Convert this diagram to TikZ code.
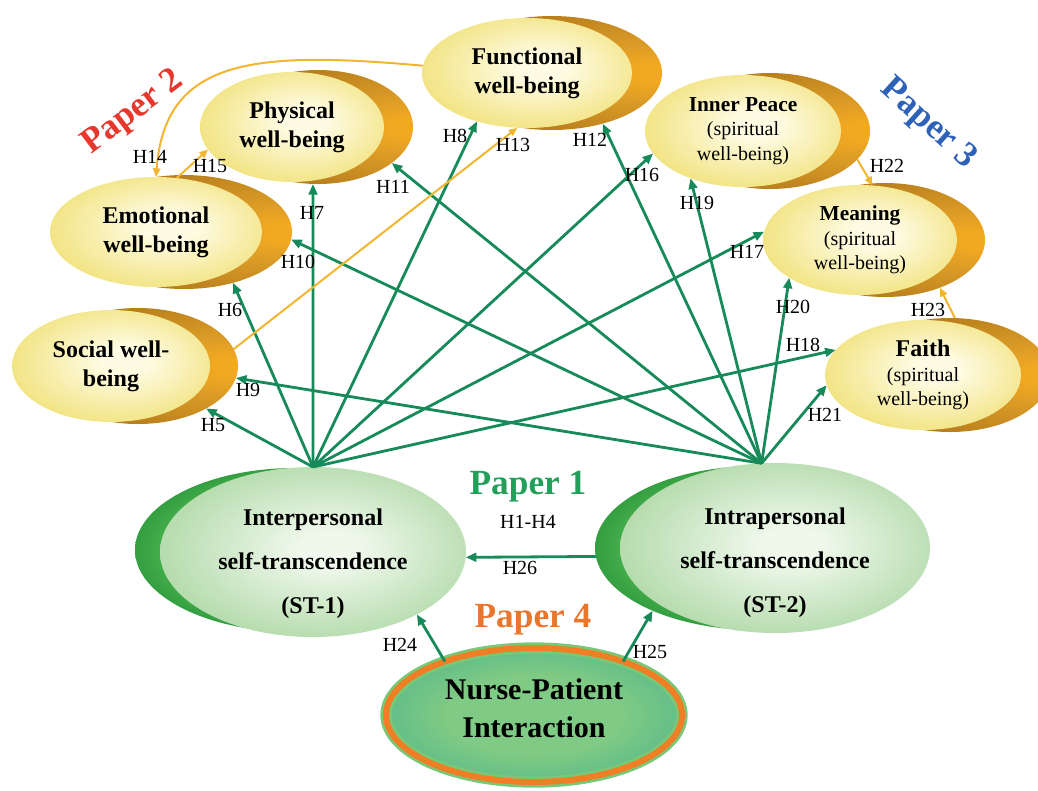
\documentclass[tikz,border=0pt]{standalone}
\usepackage{fontspec}
\setmainfont{Liberation Serif}
\usetikzlibrary{shapes.geometric,arrows.meta}

% fills
\definecolor{ylwIn}{HTML}{FEFBE2}
\definecolor{ylwOut}{HTML}{F1E27C}
\definecolor{orBright}{HTML}{F2A921}
\definecolor{orMid}{HTML}{DC9C26}
\definecolor{orDark}{HTML}{B57C1C}
\definecolor{stIn}{HTML}{EFF8EB}
\definecolor{stOut}{HTML}{B4DBAC}
\definecolor{dgIn}{HTML}{5EC05A}
\definecolor{dgOut}{HTML}{2F9C3E}
\definecolor{npIn}{HTML}{7FCA84}
\definecolor{npOut}{HTML}{62BE88}
\definecolor{npRim}{HTML}{79C878}
\definecolor{npBand}{HTML}{F07E24}
% strokes and titles
\definecolor{arrG}{HTML}{168A58}
\definecolor{arrY}{HTML}{F2B530}
\definecolor{pOne}{HTML}{22A05A}
\definecolor{pTwo}{HTML}{E8372C}
\definecolor{pThree}{HTML}{2E62B8}
\definecolor{pFour}{HTML}{E8762D}

% the path's bounding box covers the central 50bp of each shading
\pgfdeclareradialshading{ylwwash}{\pgfpoint{4bp}{3bp}}{color(0bp)=(ylwIn); color(6bp)=(ylwIn); color(29bp)=(ylwOut); color(50bp)=(ylwOut)}
\pgfdeclareradialshading{orwash}{\pgfpoint{25bp}{0bp}}{color(0bp)=(orBright); color(4bp)=(orBright); color(12bp)=(orMid); color(30bp)=(orDark); color(60bp)=(orDark)}
\pgfdeclareradialshading{stwash}{\pgfpoint{3bp}{1bp}}{color(0bp)=(stIn); color(5bp)=(stIn); color(27bp)=(stOut); color(50bp)=(stOut)}
\pgfdeclareradialshading{dgwash}{\pgfpoint{0bp}{0bp}}{color(0bp)=(dgIn); color(15bp)=(dgIn); color(26bp)=(dgOut); color(50bp)=(dgOut)}
\pgfdeclareradialshading{npwash}{\pgfpoint{0bp}{0bp}}{color(0bp)=(npIn); color(15bp)=(npIn); color(25bp)=(npOut); color(50bp)=(npOut)}

\begin{document}
\begin{tikzpicture}[x=0.75pt,y=-0.75pt,
  oval/.style={ellipse, inner sep=0pt, outer sep=0pt, align=center},
  wb/.style={oval, shade, shading=ylwwash, font=\bfseries\fontsize{18}{21.5}\selectfont},
  spir/.style={oval, shade, shading=ylwwash, font=\fontsize{15}{18.5}\selectfont},
  wbback/.style={oval, shade, shading=orwash},
  stfront/.style={oval, shade, shading=stwash},
  stback/.style={oval, shade, shading=dgwash},
  sttext/.style={align=center, font=\bfseries\fontsize{18}{33}\selectfont},
  gar/.style={draw=arrG, line width=2.1pt, -{Triangle[length=8pt,width=6.5pt]}},
  yar/.style={draw=arrY, line width=1.5pt, -{Triangle[length=6.5pt,width=5.5pt]}},
  hlab/.style={font=\fontsize{15}{15}\selectfont, inner sep=0pt},
  papertitle/.style={font=\bfseries\fontsize{26.5}{28}\selectfont, inner sep=0pt}]
\useasboundingbox (0,0) rectangle (1038,790);

% ---- well-being outcomes (crescent behind, face in front) ----
\node[wbback, minimum width=165pt, minimum height=85.5pt] (funcB) at (552,73) {};
\node[wb, minimum width=157.5pt, minimum height=82.5pt] (func) at (527,73) {Functional\\well-being};

\node[wbback, minimum width=142.5pt, minimum height=85.5pt] (physB) at (318,127) {};
\node[wb, minimum width=138pt, minimum height=82.5pt] (phys) at (292,127) {Physical\\well-being};

\node[wbback, minimum width=162pt, minimum height=85.5pt] (emotB) at (184,232) {};
\node[wb, minimum width=159pt, minimum height=82.5pt] (emot) at (156,232) {Emotional\\well-being};

\node[wbback, minimum width=150pt, minimum height=87pt] (socialB) at (138,366) {};
\node[wb, minimum width=148.5pt, minimum height=84pt] (social) at (111,366) {Social well-\\being};

\node[wbback, minimum width=150pt, minimum height=87pt] (innerB) at (770,131) {};
\node[spir, minimum width=147pt, minimum height=84pt] (inner) at (743,131)
  {{\bfseries\fontsize{16}{18.5}\selectfont Inner Peace}\\(spiritual\\well-being)};

\node[wbback, minimum width=150pt, minimum height=85.5pt] (meaningB) at (885,240) {};
\node[spir, minimum width=145.5pt, minimum height=82.5pt] (meaning) at (860,240)
  {{\bfseries\fontsize{16}{18.5}\selectfont Meaning}\\(spiritual\\well-being)};

\node[wbback, minimum width=150pt, minimum height=85.5pt] (faithB) at (950,375) {};
\node[spir, minimum width=147pt, minimum height=82.5pt] (faith) at (923,375)
  {{\bfseries\fontsize{18}{20}\selectfont Faith}\\(spiritual\\well-being)};

% ---- self-transcendence ----
\node[stback, minimum width=240pt, minimum height=123pt] (st1B) at (295,550) {};
\node[stfront, minimum width=229.5pt, minimum height=127.5pt,
  label={[name=st1text, sttext, yshift=-9pt]center:Interpersonal\\self-transcendence\\(ST-1)}] (st1) at (313,552) {};

\node[stback, minimum width=243pt, minimum height=123pt] (st2B) at (757,548) {};
\node[stfront, minimum width=232.5pt, minimum height=127.5pt,
  label={[name=st2text, sttext, yshift=-11pt]center:Intrapersonal\\self-transcendence\\(ST-2)}] (st2) at (775,548) {};

% ---- nurse-patient interaction ----
\node[oval, shade, shading=npwash, draw=npRim, line width=2pt, double=npBand, double distance=4.5pt,
  minimum width=222pt, minimum height=100.5pt,
  label={[name=nptext, align=center, font=\bfseries\fontsize{22.5}{28}\selectfont, yshift=5pt]center:Nurse-Patient\\Interaction}]
  (np) at (534,715) {};

% ---- paths from interpersonal ST ----
\draw[gar] (st1.north) -- (socialB.-32);   % H5
\draw[gar] (st1.north) -- (emotB.-46);     % H6
\draw[gar] (st1.north) -- (physB.-95);     % H7
\draw[gar] (st1.north) -- (func.-136);     % H8
\draw[gar] (st1.north) -- (inner.-166);    % H16
\draw[gar] (st1.north) -- (meaning.175);   % H17
\draw[gar] (st1.north) -- (faith.164);     % H18

% ---- paths from intrapersonal ST ----
\draw[gar] (st2.99) -- (socialB.-7);       % H9
\draw[gar] (st2.99) -- (emotB.-4);         % H10
\draw[gar] (st2.99) -- (physB.-26);        % H11
\draw[gar] (st2.99) -- (funcB.-45);        % H12
\draw[gar] (st2.99) -- (inner.-138);       % H19
\draw[gar] (st2.99) -- (meaning.-152);     % H20
\draw[gar] (st2.99) -- (faith.-174);       % H21

% ---- links among well-being outcomes ----
\draw[yar] (socialB.10) -- (func.-100);                                  % H13
\draw[yar] (func.176) .. controls (250,50) and (165,60) .. (emot.north);  % H14
\draw[yar] (emot.69) -- (phys.-165);                                     % H15
\draw[yar] (innerB.-18) -- (meaning.77);                                 % H22
\draw[yar] (faithB.85) -- (meaningB.-41);                                % H23

% ---- links among predictors ----
\draw[gar] (st2B.-177) -- (st1.-2);   % H26
\draw[gar] (np.149) -- (st1.-31);     % H24
\draw[gar] (np.31) -- (st2B.-149);    % H25

% ---- hypothesis labels ----
\node[hlab] (lH5)  at (213,425) {H5};
\node[hlab] (lH6)  at (230,310) {H6};
\node[hlab] (lH7)  at (312,213) {H7};
\node[hlab] (lH8)  at (455,136) {H8};
\node[hlab] (lH9)  at (248,390) {H9};
\node[hlab] (lH10) at (298,262) {H10};
\node[hlab] (lH11) at (393,187) {H11};
\node[hlab] (lH12) at (590,140) {H12};
\node[hlab] (lH13) at (513,145) {H13};
\node[hlab] (lH14) at (150,157) {H14};
\node[hlab] (lH15) at (210,166) {H15};
\node[hlab] (lH16) at (642,175) {H16};
\node[hlab] (lH17) at (747,252) {H17};
\node[hlab] (lH18) at (803,345) {H18};
\node[hlab] (lH19) at (697,203) {H19};
\node[hlab] (lH20) at (793,307) {H20};
\node[hlab] (lH21) at (825,415) {H21};
\node[hlab] (lH22) at (887,166) {H22};
\node[hlab] (lH23) at (928,310) {H23};
\node[hlab] (lH24) at (400,645) {H24};
\node[hlab] (lH25) at (650,652) {H25};
\node[hlab] (lH26) at (520,568) {H26};
\node[hlab] (lH1to4) at (528,522) {H1-H4};

% ---- study titles ----
\node[papertitle, text=pOne] (p1) at (528,487) {Paper 1};
\node[papertitle, text=pTwo, rotate=37] (p2) at (133,113) {Paper 2};
\node[papertitle, text=pThree, rotate=-42] (p3) at (928,124) {Paper 3};
\node[papertitle, text=pFour] (p4) at (533,620) {Paper 4};
\end{tikzpicture}
\end{document}
